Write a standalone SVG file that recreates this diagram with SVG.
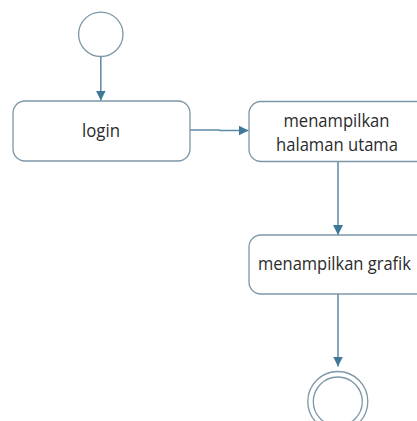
<svg xmlns="http://www.w3.org/2000/svg" width="417" height="421" viewBox="0 0 417 421">
  <style>
    .node { fill: #ffffff; stroke: #7d97a6; stroke-width: 1.3; }
    .label { font-family: "Open Sans", "Noto Sans", "Liberation Sans", sans-serif; font-size: 18.5px; fill: #2b2b2b; }
    .flow { fill: none; stroke: #5d8aa6; stroke-width: 1.5; }
  </style>
  <defs>
    <marker id="arrow" viewBox="0 0 10 10" refX="10" refY="5" markerWidth="10" markerHeight="10" markerUnits="userSpaceOnUse" orient="auto">
      <path d="M0,0 L10,5 L0,10 Z" fill="#3f7799"/>
    </marker>
  </defs>
  <rect width="417" height="421" fill="#ffffff"/>

  <g id="connectors">
    <line class="flow" x1="100.8" y1="56.5" x2="100.8" y2="100.5" marker-end="url(#arrow)"/>
    <polyline class="flow" points="190,130 219,130 220,130.5 248.5,130.5" marker-end="url(#arrow)"/>
    <line class="flow" x1="338" y1="162" x2="338" y2="235" marker-end="url(#arrow)"/>
    <line class="flow" x1="338" y1="294" x2="338" y2="366.5" marker-end="url(#arrow)"/>
  </g>

  <g id="start">
    <circle class="node" cx="100.8" cy="34.3" r="22.2"/>
  </g>

  <g id="login">
    <rect class="node" x="13" y="101" width="177" height="60" rx="12" ry="12"/>
    <text class="label" x="101" y="137" text-anchor="middle" textLength="38" lengthAdjust="spacingAndGlyphs">login</text>
  </g>

  <g id="halaman-utama">
    <rect class="node" x="249" y="101.5" width="185" height="60" rx="12" ry="12"/>
    <text class="label" x="336.5" y="127" text-anchor="middle" textLength="106" lengthAdjust="spacingAndGlyphs">menampilkan</text>
    <text class="label" x="337" y="151" text-anchor="middle" textLength="122" lengthAdjust="spacingAndGlyphs">halaman utama</text>
  </g>

  <g id="grafik">
    <rect class="node" x="249" y="235" width="185" height="59" rx="12" ry="12"/>
    <text class="label" x="258" y="270" textLength="153" lengthAdjust="spacingAndGlyphs">menampilkan grafik</text>
  </g>

  <g id="end">
    <circle class="node" cx="337.8" cy="401.5" r="30"/>
    <circle class="node" cx="337.8" cy="401.5" r="24.5"/>
  </g>
</svg>
